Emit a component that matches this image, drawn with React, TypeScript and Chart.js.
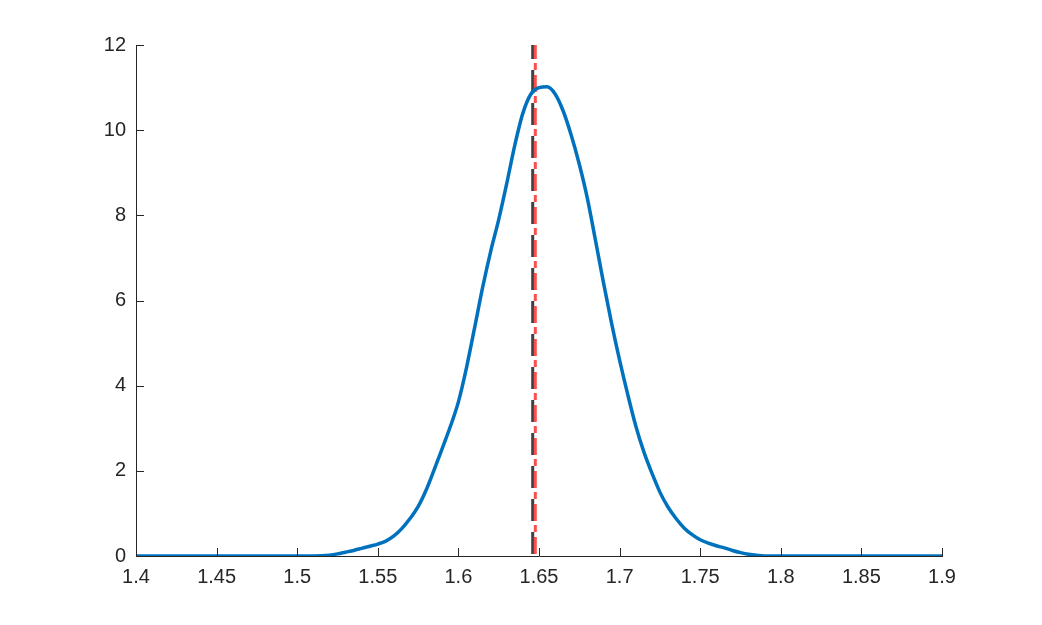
import React, { useEffect, useRef } from "react";
import { Chart, registerables } from "chart.js";

Chart.register(...registerables);

const densityX: number[] = [
  1.4, 1.45, 1.5, 1.51, 1.515, 1.52, 1.525, 1.53, 1.535, 1.54, 1.545, 1.55, 1.555, 1.56, 1.565, 1.57,
  1.575, 1.58, 1.585, 1.59, 1.595, 1.6, 1.605, 1.61, 1.615, 1.62, 1.625, 1.63, 1.635, 1.64, 1.645,
  1.65, 1.655, 1.66, 1.665, 1.67, 1.675, 1.68, 1.685, 1.69, 1.695, 1.7, 1.705, 1.71, 1.715, 1.72,
  1.725, 1.73, 1.735, 1.74, 1.745, 1.75, 1.755, 1.76, 1.765, 1.77, 1.775, 1.78, 1.785, 1.79, 1.85, 1.9,
];
const densityY: number[] = [
  0, 0, 0, 0.002, 0.006, 0.02, 0.05, 0.09, 0.13, 0.18, 0.23, 0.28, 0.35, 0.47, 0.65, 0.88,
  1.16, 1.55, 2.03, 2.53, 3.04, 3.62, 4.42, 5.35, 6.3, 7.15, 7.9, 8.75, 9.65, 10.4, 10.85,
  11.0, 11.02, 10.85, 10.45, 9.88, 9.2, 8.4, 7.42, 6.42, 5.47, 4.6, 3.8, 3.06, 2.45, 1.95,
  1.5, 1.15, 0.88, 0.66, 0.5, 0.38, 0.3, 0.24, 0.19, 0.13, 0.08, 0.04, 0.015, 0, 0, 0,
];
const blackLineX = 1.6461;
const redLineX = 1.6477;
const yRange: number[] = [0, 12];
const xTicks: number[] = [1.4, 1.45, 1.5, 1.55, 1.6, 1.65, 1.7, 1.75, 1.8, 1.85, 1.9];
const yTicks: number[] = [0, 2, 4, 6, 8, 10, 12];

const AXIS_COLOR = "#262626";
const FONT = 'Helvetica, "Liberation Sans", Arial, sans-serif';

const inwardTicks = {
  id: "inwardTicks",
  afterDatasetsDraw(chart: any) {
    const { ctx, chartArea, scales } = chart;
    const len = 8;
    ctx.save();
    ctx.strokeStyle = AXIS_COLOR;
    ctx.lineWidth = 1;
    ctx.beginPath();
    xTicks.forEach((v) => {
      const px = Math.round(scales.x.getPixelForValue(v)) + 0.5;
      ctx.moveTo(px, chartArea.bottom);
      ctx.lineTo(px, chartArea.bottom - len);
    });
    yTicks.forEach((v) => {
      const py = Math.round(scales.y.getPixelForValue(v)) + 0.5;
      ctx.moveTo(chartArea.left, py);
      ctx.lineTo(chartArea.left + len, py);
    });
    ctx.stroke();
    ctx.restore();
  },
};

export default function App() {
  const canvasRef = useRef<HTMLCanvasElement | null>(null);

  useEffect(() => {
    if (!canvasRef.current) return;
    const curve = densityX.map((x, i) => ({ x, y: densityY[i] }));
    const chart = new Chart(canvasRef.current, {
      type: "scatter",
      data: {
        datasets: [
          {
            data: curve,
            showLine: true,
            borderColor: "#0072BD",
            borderWidth: 3.5,
            pointRadius: 0,
            cubicInterpolationMode: "monotone",
            borderCapStyle: "butt",
          },
          {
            data: yRange.map((y) => ({ x: redLineX, y })),
            showLine: true,
            borderColor: "#FF4D4D",
            borderWidth: 3,
            borderDash: [17, 5, 7, 4],
            borderDashOffset: -2,
            pointRadius: 0,
          },
          {
            data: yRange.map((y) => ({ x: blackLineX, y })),
            showLine: true,
            borderColor: "#404040",
            borderWidth: 3,
            borderDash: [22, 11],
            borderDashOffset: -2,
            pointRadius: 0,
          },
        ],
      },
      options: {
        responsive: false,
        animation: false,
        layout: { padding: { left: 0, right: 100, top: 45, bottom: 0 } },
        plugins: {
          legend: { display: false },
          tooltip: { enabled: false },
        },
        scales: {
          x: {
            type: "linear",
            min: 1.4,
            max: 1.9,
            afterBuildTicks: (scale: any) => {
              scale.ticks = xTicks.map((v) => ({ value: v }));
            },
            afterFit: (scale: any) => {
              scale.height = 69;
            },
            grid: { display: false, drawTicks: false },
            border: { display: true, color: AXIS_COLOR, width: 1 },
            ticks: {
              color: AXIS_COLOR,
              font: { family: FONT, size: 20 },
              padding: 9,
              maxRotation: 0,
              autoSkip: false,
              callback: (v: any) => String(Number(Number(v).toFixed(2))),
            },
          },
          y: {
            type: "linear",
            min: 0,
            max: 12,
            afterBuildTicks: (scale: any) => {
              scale.ticks = yTicks.map((v) => ({ value: v }));
            },
            afterFit: (scale: any) => {
              scale.width = 136;
            },
            grid: { display: false, drawTicks: false },
            border: { display: true, color: AXIS_COLOR, width: 1 },
            ticks: {
              color: AXIS_COLOR,
              font: { family: FONT, size: 20 },
              padding: 10,
              autoSkip: false,
              callback: (v: any) => String(v),
            },
          },
        },
      },
      plugins: [inwardTicks],
    });
    return () => chart.destroy();
  }, []);

  return (
    <div style={{ position: "fixed", left: 0, top: 0, width: 1042, height: 625, background: "#fff" }}>
      <canvas ref={canvasRef} width={1042} height={625} style={{ display: "block" }} />
    </div>
  );
}
